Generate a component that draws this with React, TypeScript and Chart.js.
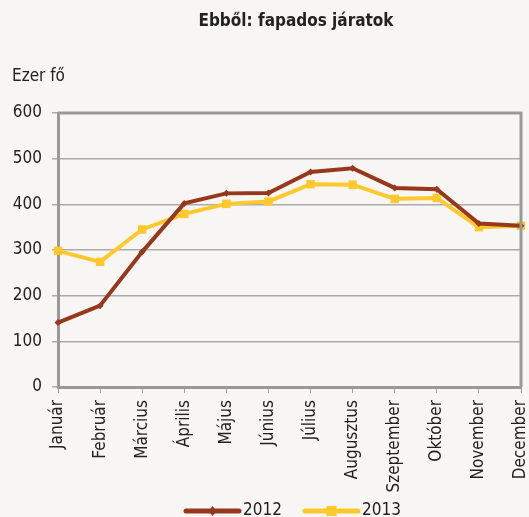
import React, { useEffect, useRef } from "react";
import { Chart, registerables } from "chart.js";

Chart.register(...registerables);

const months = [
  "Január", "Február", "Március", "Április", "Május", "Június",
  "Július", "Augusztus", "Szeptember", "Október", "November", "December",
];
const series2012 = [141, 178, 296, 402, 424, 425, 471, 479, 436, 433, 358, 353];
const series2013 = [298, 274, 345, 379, 401, 406, 444, 443, 412, 414, 350, 353];
const yTicks = [0, 100, 200, 300, 400, 500, 600];
const legendLabels = ["2012", "2013"];

const FONT = '"DejaVu Sans Condensed", "Liberation Sans Narrow", sans-serif';
const C2012 = "#97381D";
const C2013 = "#FFC82C";
const BG = "#F7F6F4";

const decorPlugin = {
  id: "decor",
  beforeDraw(chart: any) {
    const { ctx, width, height } = chart;
    ctx.save();
    ctx.fillStyle = BG;
    ctx.fillRect(0, 0, width, height);
    ctx.restore();
  },
  afterDraw(chart: any) {
    const { ctx, chartArea } = chart;
    ctx.save();
    ctx.fillStyle = "#222";
    ctx.font = `bold 17px ${FONT}`;
    ctx.textAlign = "center";
    ctx.textBaseline = "middle";
    ctx.fillText("Ebből: fapados járatok", 296, 22);
    ctx.font = `17px ${FONT}`;
    ctx.textAlign = "left";
    ctx.fillText("Ezer fő", 12, 77);
    // frame top & right
    ctx.strokeStyle = "#999999";
    ctx.lineWidth = 3;
    ctx.beginPath();
    ctx.moveTo(chartArea.left, chartArea.top);
    ctx.lineTo(chartArea.right, chartArea.top);
    ctx.lineTo(chartArea.right, chartArea.bottom);
    ctx.stroke();
    // legend
    const items = [
      { x: 186, color: C2012, kind: "diamond", text: legendLabels[0] },
      { x: 305, color: C2013, kind: "square", text: legendLabels[1] },
    ];
    const y = 511;
    for (const it of items) {
      ctx.strokeStyle = it.color;
      ctx.lineWidth = 5;
      ctx.lineCap = "round";
      ctx.beginPath();
      ctx.moveTo(it.x, y);
      ctx.lineTo(it.x + 53, y);
      ctx.stroke();
      ctx.fillStyle = it.color;
      const cx = it.x + 26.5;
      if (it.kind === "diamond") {
        ctx.beginPath();
        ctx.moveTo(cx, y - 5);
        ctx.lineTo(cx + 4, y);
        ctx.lineTo(cx, y + 5);
        ctx.lineTo(cx - 4, y);
        ctx.closePath();
        ctx.fill();
      } else {
        ctx.fillRect(cx - 5, y - 5, 10, 10);
      }
      ctx.fillStyle = "#222";
      ctx.font = `17px ${FONT}`;
      ctx.textAlign = "left";
      ctx.textBaseline = "middle";
      ctx.fillText(it.text, it.x + 57, y);
    }
    ctx.restore();
  },
};

export default function App() {
  const ref = useRef<HTMLCanvasElement>(null);
  useEffect(() => {
    if (!ref.current) return;
    const chart = new Chart(ref.current, {
      type: "line",
      data: {
        labels: months,
        datasets: [
          {
            label: legendLabels[0],
            data: series2012,
            borderColor: C2012,
            backgroundColor: C2012,
            borderWidth: 4,
            pointStyle: "rectRot",
            pointRadius: 3.5,
            pointBorderWidth: 0,
            tension: 0,
          },
          {
            label: legendLabels[1],
            data: series2013,
            borderColor: C2013,
            backgroundColor: C2013,
            borderWidth: 4,
            pointStyle: "rect",
            pointRadius: 6,
            pointBorderWidth: 0,
            tension: 0,
          },
        ],
      },
      options: {
        animation: false,
        responsive: true,
        maintainAspectRatio: false,
        layout: { padding: { top: 113, left: 12, right: 8, bottom: 0 } },
        plugins: {
          tooltip: { enabled: false },
          title: { display: false },
          legend: { display: false },
        },
        scales: {
          x: {
            offset: false,
            afterFit: (scale: any) => {
              scale.height = 130;
              scale.paddingLeft = 0;
              scale.paddingRight = 0;
            },
            grid: {
              display: true,
              drawOnChartArea: false,
              drawTicks: true,
              tickLength: 6,
              color: "#A0A0A0",
            },
            border: { display: true, color: "#999999", width: 3 },
            ticks: {
              autoSkip: false,
              maxRotation: 90,
              minRotation: 90,
              padding: 7,
              color: "#222",
              font: { family: FONT, size: 17 },
            },
          },
          y: {
            min: 0,
            max: 600,
            afterBuildTicks: (scale: any) => {
              scale.ticks = yTicks.map((v) => ({ value: v }));
            },
            afterFit: (scale: any) => {
              scale.width = 46;
              scale.paddingTop = 0;
              scale.paddingBottom = 0;
            },
            grid: {
              color: "#ABABAB",
              lineWidth: 1.5,
              tickLength: 6,
            },
            border: { display: true, color: "#999999", width: 3 },
            ticks: {
              padding: 10,
              color: "#222",
              font: { family: FONT, size: 17 },
            },
          },
        },
      },
      plugins: [decorPlugin],
    });
    return () => chart.destroy();
  }, []);
  return (
    <div style={{ position: "absolute", left: 0, top: 0, width: 529, height: 517 }}>
      <canvas ref={ref} />
    </div>
  );
}
